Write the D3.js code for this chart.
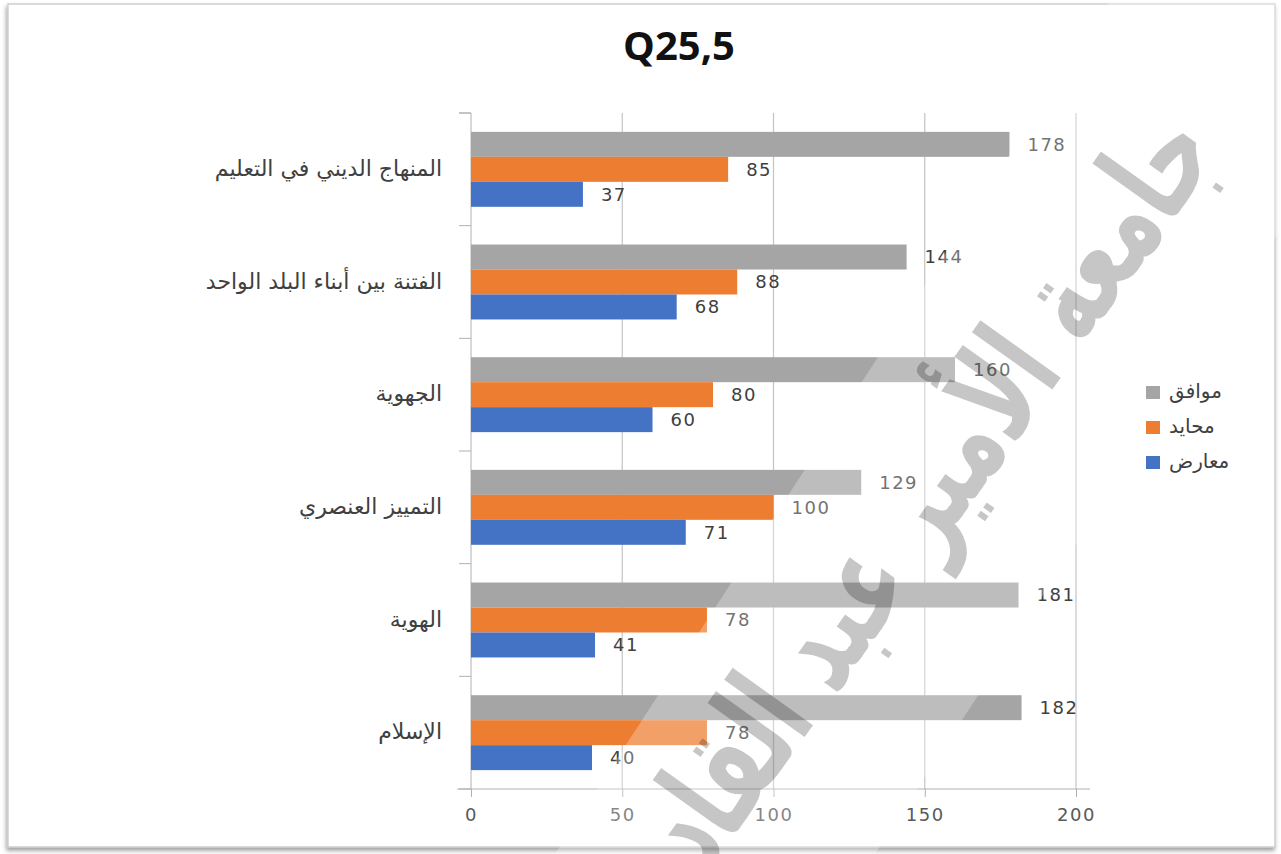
<html>
<head>
<meta charset="utf-8">
<script src="https://d3js.org/d3.v7.min.js"></script>
<style>
body {margin:0; background:#fff;}
text {font-family: "DejaVu Sans", Arial, sans-serif;}
</style>
</head>
<body>
<svg width="1281" height="854"></svg>
<script>
// categories, top to bottom
var categories = ["المنهاج الديني في التعليم", "الفتنة بين أبناء البلد الواحد", "الجهوية", "التمييز العنصري", "الهوية", "الإسلام"];
var seriesNames = ["موافق", "محايد", "معارض"];
var agree = [178, 144, 160, 129, 181, 182];
var neutral = [85, 88, 80, 100, 78, 78];
var oppose = [37, 68, 60, 71, 41, 40];
var xTicks = [0, 50, 100, 150, 200];
var colors = ["#a5a5a5", "#ed7d31", "#4472c4"];
var title = "Q25,5";
var watermark = "جامعة الأمير عبد القادر";

var values = [agree, neutral, oppose];
var rows = categories.map(function(c, i) {
  return {cat: c, vals: seriesNames.map(function(s, j) { return {s: s, j: j, v: values[j][i]}; })};
});

var svg = d3.select("svg");

// frame with shadow
var defs = svg.append("defs");
var f = defs.append("filter").attr("id", "sh").attr("x", "-5%").attr("y", "-5%").attr("width", "110%").attr("height", "110%");
f.append("feDropShadow").attr("dx", -1).attr("dy", 3).attr("stdDeviation", 2).attr("flood-color", "#888").attr("flood-opacity", 0.8);
svg.append("rect").attr("x", 8).attr("y", 4).attr("width", 1267).attr("height", 843)
  .attr("fill", "#fff").attr("stroke", "#cfcfcf").attr("stroke-width", 1.5).attr("filter", "url(#sh)");

var x = d3.scaleLinear().domain([0, 200]).range([471, 1076]);
var y = d3.scaleBand().domain(categories).range([113, 789]).paddingInner(0.335).paddingOuter(0.1675);
var ys = d3.scaleBand().domain(seriesNames).range([0, y.bandwidth()]);

// title
svg.append("text").attr("x", 679).attr("y", 60).attr("text-anchor", "middle")
  .style("font-family", "'Open Sans', sans-serif").style("font-weight", "bold").style("font-size", "40px")
  .attr("fill", "#111").text(title);

// gridlines
svg.append("g").selectAll("line").data(xTicks.slice(1)).enter().append("line")
  .attr("x1", function(d) { return x(d); }).attr("x2", function(d) { return x(d); })
  .attr("y1", 113).attr("y2", 789).attr("stroke", "#c4c4c4").attr("stroke-width", 1.2);

// x axis
var xa = svg.append("g").attr("transform", "translate(0,789)")
  .call(d3.axisBottom(x).tickValues(xTicks).tickSize(8).tickPadding(11).tickSizeOuter(0));
xa.select(".domain").attr("stroke", "#b0b0b0").attr("d", "M457,0H1090");
xa.selectAll(".tick line").attr("stroke", "#b0b0b0");
xa.selectAll(".tick text").attr("fill", "#595959").style("font-size", "18px")
  .style("letter-spacing", "1.5px").style("font-family", "'DejaVu Sans', sans-serif");

// y axis
var ya = svg.append("g").attr("transform", "translate(471,0)")
  .call(d3.axisLeft(y).tickSize(0).tickPadding(29));
ya.select(".domain").attr("stroke", "#b0b0b0").attr("d", "M-12,113H0V789");
ya.selectAll(".tick text").attr("fill", "#404040").style("font-size", "22px")
  .style("font-family", "'DejaVu Sans', sans-serif").attr("dy", "0.3em");
// category boundary ticks
var bounds = categories.map(function(c) { return y(c) - y.step() * 0.1675; }).concat([789]);
svg.append("g").selectAll("line").data(bounds).enter().append("line")
  .attr("x1", 459).attr("x2", 471).attr("y1", function(d) { return d; }).attr("y2", function(d) { return d; })
  .attr("stroke", "#b0b0b0");

// bars
var groups = svg.append("g").selectAll("g").data(rows).enter().append("g")
  .attr("transform", function(d) { return "translate(0," + y(d.cat) + ")"; });
groups.selectAll("rect").data(function(d) { return d.vals; }).enter().append("rect")
  .attr("x", x(0)).attr("y", function(d) { return ys(d.s); })
  .attr("width", function(d) { return x(d.v) - x(0); }).attr("height", ys.bandwidth())
  .attr("fill", function(d) { return colors[d.j]; });

// light diagonal band of watermark
svg.append("polygon").attr("points", "1110,0 1430,0 875,854 555,854")
  .attr("fill", "#fff").attr("opacity", 0.27);

// value labels
groups.selectAll("text.val").data(function(d) { return d.vals; }).enter().append("text")
  .attr("class", "val").attr("x", function(d) { return x(d.v) + 18; })
  .attr("y", function(d) { return ys(d.s) + ys.bandwidth() / 2; }).attr("dy", "0.36em")
  .attr("fill", "#404040").style("font-size", "18px").style("letter-spacing", "1.5px")
  .text(function(d) { return d.v; });

// legend
var lg = svg.append("g").selectAll("g").data(seriesNames).enter().append("g")
  .attr("transform", function(d, i) { return "translate(1146," + (392 + i * 35) + ")"; });
lg.append("rect").attr("x", 0).attr("y", -6).attr("width", 14).attr("height", 13)
  .attr("fill", function(d, i) { return colors[i]; });
lg.append("text").attr("x", 23).attr("y", 0).attr("dy", "0.3em").attr("fill", "#404040")
  .style("font-size", "20px").text(function(d) { return d; });

// watermark
svg.append("text").attr("transform", "translate(912,508) rotate(-54.5)")
  .attr("text-anchor", "middle").attr("dy", "0.35em")
  .style("font-size", "130px").style("font-weight", "bold")
  .attr("textLength", 940).attr("lengthAdjust", "spacingAndGlyphs")
  .attr("fill", "#000").attr("opacity", 0.22).text(watermark);
</script>
</body>
</html>
